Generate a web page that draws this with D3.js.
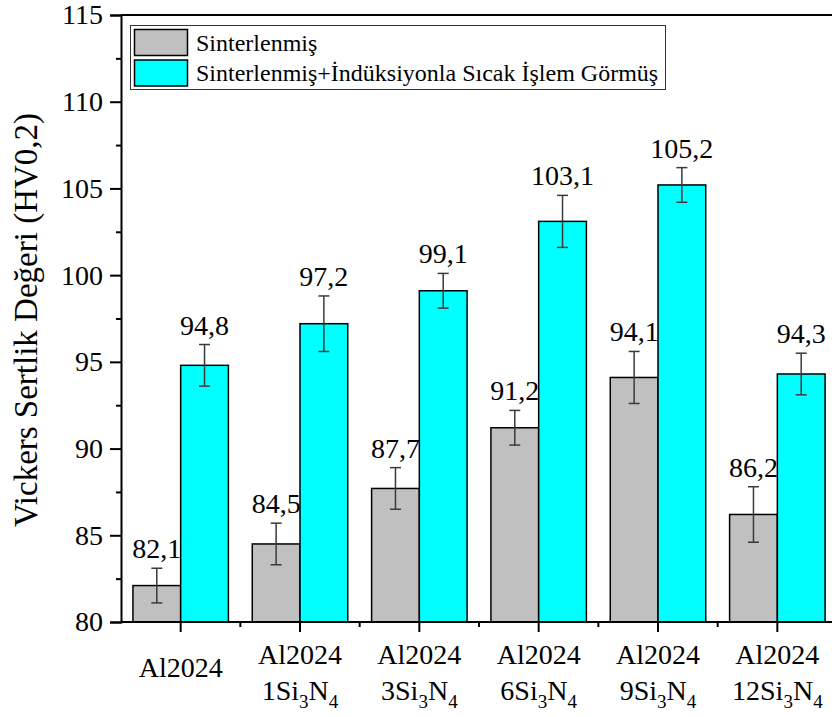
<!DOCTYPE html>
<html><head><meta charset="utf-8">
<script src="https://cdn.jsdelivr.net/npm/d3@7"></script>
<style>
html,body{margin:0;padding:0;background:#fff;}
</style></head>
<body>
<svg id="chart" width="832" height="717"></svg>
<script>
const categories = ["Al2024", "Al2024 1Si3N4", "Al2024 3Si3N4", "Al2024 6Si3N4", "Al2024 9Si3N4", "Al2024 12Si3N4"];
const seriesNames = ["Sinterlenmiş", "Sinterlenmiş+İndüksiyonla Sıcak İşlem Görmüş"];
const sinteredValues = [82.1, 84.5, 87.7, 91.2, 94.1, 86.2];
const sinteredErrors = [1.0, 1.2, 1.2, 1.0, 1.5, 1.6];
const inductionValues = [94.8, 97.2, 99.1, 103.1, 105.2, 94.3];
const inductionErrors = [1.2, 1.6, 1.0, 1.5, 1.0, 1.2];
const yTicks = [80, 85, 90, 95, 100, 105, 110, 115];
const yMinorTicks = [82.5, 87.5, 92.5, 97.5, 102.5, 107.5, 112.5];
const yTitle = "Vickers Sertlik Değeri (HV0,2)";
const colors = ["#c0c0c0", "#00ffff"];

const FONT = "Liberation Serif, Times New Roman, serif";
const svg = d3.select("#chart");
const mLeft = 121, mRight = 837, mTop = 15, mBottom = 622;

const x = d3.scaleBand().domain(categories).range([mLeft, mRight]).paddingInner(0).paddingOuter(0);
const xs = d3.scaleBand().domain(seriesNames).range([x.bandwidth() * 0.1, x.bandwidth() * 0.9]).padding(0);
const y = d3.scaleLinear().domain([80, 115]).range([mBottom, mTop]);

const data = [];
categories.forEach((c, i) => {
  data.push({cat: c, s: seriesNames[0], v: sinteredValues[i], e: sinteredErrors[i], col: colors[0]});
  data.push({cat: c, s: seriesNames[1], v: inductionValues[i], e: inductionErrors[i], col: colors[1]});
});

// bars
svg.append("g").selectAll("rect").data(data).join("rect")
  .attr("x", d => x(d.cat) + xs(d.s))
  .attr("y", d => y(d.v))
  .attr("width", xs.bandwidth())
  .attr("height", d => y(80) - y(d.v))
  .attr("fill", d => d.col)
  .attr("stroke", "#000")
  .attr("stroke-width", 1.5);

// error bars
const eg = svg.append("g").attr("stroke", "#3a3a3a").attr("stroke-width", 1.5);
data.forEach(d => {
  const cx = x(d.cat) + xs(d.s) + xs.bandwidth() / 2;
  eg.append("line").attr("x1", cx).attr("x2", cx).attr("y1", y(d.v + d.e)).attr("y2", y(d.v - d.e));
  eg.append("line").attr("x1", cx - 5.5).attr("x2", cx + 5.5).attr("y1", y(d.v + d.e)).attr("y2", y(d.v + d.e));
  eg.append("line").attr("x1", cx - 5.5).attr("x2", cx + 5.5).attr("y1", y(d.v - d.e)).attr("y2", y(d.v - d.e));
});

// value labels
svg.append("g").attr("font-family", FONT).attr("font-size", 28)
  .selectAll("text").data(data).join("text")
  .attr("x", d => x(d.cat) + xs(d.s) + xs.bandwidth() / 2)
  .attr("y", d => y(d.v + d.e) - 10)
  .attr("text-anchor", "middle")
  .attr("fill", "#000")
  .text(d => d.v.toFixed(1).replace(".", ","));

// y axis
const yAxis = svg.append("g").attr("transform", `translate(${mLeft},0)`)
  .call(d3.axisLeft(y).tickValues(yTicks).tickSize(11).tickPadding(7).tickFormat(d3.format("d")));
yAxis.attr("font-family", FONT).attr("font-size", 28);
yAxis.selectAll("text").attr("fill", "#000");
yAxis.selectAll("line").attr("stroke-width", 2);
yAxis.select(".domain").attr("stroke-width", 2);
const yMinor = svg.append("g").attr("transform", `translate(${mLeft},0)`)
  .call(d3.axisLeft(y).tickValues(yMinorTicks).tickSize(5).tickFormat(""));
yMinor.select(".domain").remove();
yMinor.selectAll("line").attr("stroke-width", 2);

// x axis
const xAxis = svg.append("g").attr("transform", `translate(0,${mBottom})`)
  .call(d3.axisBottom(x).tickSize(10).tickFormat(""));
xAxis.selectAll("line").attr("stroke-width", 2);
xAxis.select(".domain").attr("stroke-width", 2).attr("d", `M${mLeft},0H${mRight}`);
svg.append("g").selectAll("line").data(categories.slice(1)).join("line")
  .attr("x1", d => x(d)).attr("x2", d => x(d))
  .attr("y1", mBottom).attr("y2", mBottom + 5)
  .attr("stroke", "#000").attr("stroke-width", 2);

// top border
svg.append("line").attr("x1", mLeft).attr("x2", mRight).attr("y1", mTop).attr("y2", mTop)
  .attr("stroke", "#000").attr("stroke-width", 2);

// x tick labels
const xl = svg.append("g").attr("font-family", FONT).attr("font-size", 28);
categories.forEach(c => {
  const cx = x(c) + x.bandwidth() / 2;
  const parts = c.split(" ");
  if (parts.length === 1) {
    xl.append("text").attr("x", cx).attr("y", 677).attr("text-anchor", "middle").text(parts[0]);
  } else {
    xl.append("text").attr("x", cx).attr("y", 664).attr("text-anchor", "middle").text(parts[0]);
    const m = parts[1].match(/^(\d+)Si(\d)N(\d)$/);
    const t = xl.append("text").attr("x", cx).attr("y", 700).attr("text-anchor", "middle");
    t.append("tspan").text(m[1] + "Si");
    t.append("tspan").attr("font-size", 19).attr("dy", 8).text(m[2]);
    t.append("tspan").attr("dy", -8).text("N");
    t.append("tspan").attr("font-size", 19).attr("dy", 8).text(m[3]);
  }
});

// y title
svg.append("text").attr("transform", "translate(37,320) rotate(-90)")
  .attr("text-anchor", "middle").attr("font-family", FONT).attr("font-size", 33).text(yTitle);

// legend
const lg = svg.append("g");
lg.append("rect").attr("x", 130.5).attr("y", 25.5).attr("width", 535).attr("height", 64)
  .attr("fill", "#fff").attr("stroke", "#333").attr("stroke-width", 1);
seriesNames.forEach((s, i) => {
  const yy = 29.5 + i * 30.5;
  lg.append("rect").attr("x", 134.5).attr("y", yy).attr("width", 53).attr("height", 26)
    .attr("fill", colors[i]).attr("stroke", "#000").attr("stroke-width", 1.5);
  lg.append("text").attr("x", 196).attr("y", yy + 21).attr("font-family", FONT).attr("font-size", 24).text(s);
});
</script>
</body></html>
